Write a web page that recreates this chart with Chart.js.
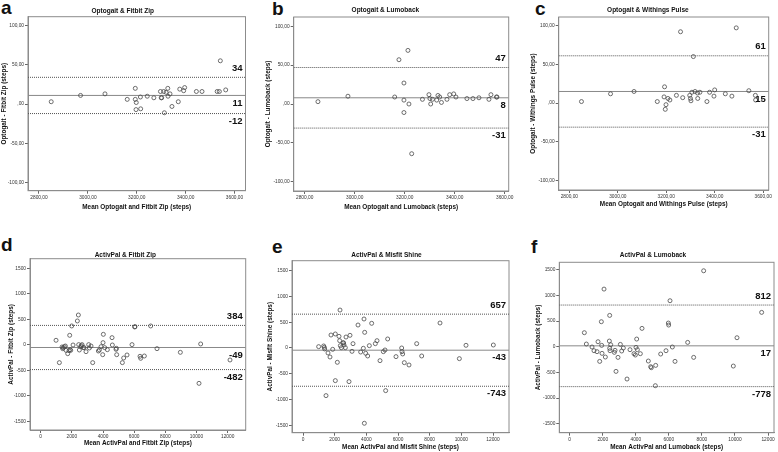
<!DOCTYPE html>
<html>
<head>
<meta charset="utf-8">
<script src="https://cdn.jsdelivr.net/npm/chart.js@4.4.1/dist/chart.umd.min.js"></script>
<style>
  body { margin: 0; width: 778px; height: 452px; position: relative; overflow: hidden; background: #fff;
         font-family: "Liberation Sans", Arial, sans-serif; }
  canvas { position: absolute; }
  .tag { position: absolute; font-weight: bold; font-size: 19px; line-height: 19px; color: #111; }
</style>
</head>
<body>
<div class="tag" style="left:1px;top:-2px">a</div>
<div class="tag" style="left:272px;top:-1px">b</div>
<div class="tag" style="left:535px;top:-1px">c</div>
<div class="tag" style="left:1px;top:235px">d</div>
<div class="tag" style="left:272px;top:237px">e</div>
<div class="tag" style="left:531px;top:237px">f</div>
<script>
// tick labels
const optoXTicks = [2800, 3000, 3200, 3400, 3600];
const optoYTicks = [-100, -50, 0, 50, 100];
const palXTicks = [0, 2000, 4000, 6000, 8000, 10000, 12000];
const palYTicks = [-1500, -1000, -500, 0, 500, 1000, 1500];

// a: Optogait & Fitbit Zip
const aMean = [2850, 2970, 3070, 3161, 3194, 3194, 3198, 3197, 3215, 3216, 3243, 3270, 3297, 3300, 3302, 3310,
  3313, 3320, 3327, 3328, 3336, 3344, 3370, 3376, 3392, 3396, 3444, 3467, 3529, 3538, 3542, 3564];
const aDiff = [3, 11, 13, 6, 20, 6, 2, -7, 9, -6, 10, 8, 16, 8, 8, 16, -11, 15, 20, 10, 13, -3, 3, 19, 17, 21,
  16, 16, 16, 16, 55, 18];
const aLimits = [34, 11, -12];

// b: Optogait & Lumoback
const bMean = [2853, 2973, 3160, 3177, 3197, 3197, 3197, 3213, 3217, 3228, 3271, 3297, 3301, 3304, 3311, 3328,
  3333, 3340, 3347, 3369, 3380, 3396, 3405, 3449, 3473, 3497, 3537, 3545, 3567, 3569];
const bDiff = [3, 10, 9, 57, 27, 5, -11, 69, 0, -64, 6, 12, 7, 0, 6, 5, 11, 9, 2, 6, 12, 13, 9, 7, 7, 8, 6, 12, 9, 9];
const bLimits = [47, 8, -31];

// c: Optogait & Withings Pulse
const cMean = [2850, 2970, 3067, 3163, 3193, 3191, 3199, 3196, 3207, 3215, 3242, 3259, 3268, 3297, 3300, 3302,
  3306, 3312, 3319, 3329, 3330, 3339, 3368, 3379, 3397, 3400, 3444, 3471, 3489, 3541, 3568, 3569];
const cDiff = [2, 12, 15, 2, 21, 8, -2, -8, 6, 4, 10, 92, 7, 10, 6, 3, 14, 60, 15, 13, 6, 14, 2, 14, 9, 17, 12, 9,
  97, 16, 10, 4];
const cLimits = [61, 15, -31];

// d: ActivPal & Fitbit Zip
const dMean = [984, 1198, 1369, 1412, 1454, 1519, 1583, 1626, 1733, 1818, 1861, 1882, 1925, 1989, 2075, 2353,
  2417, 2438, 2481, 2567, 2610, 2652, 2738, 2781, 2909, 3080, 3123, 3230, 3337, 3701, 3765, 3872, 3979, 4000,
  4021, 4107, 4278, 4578, 4599, 4834, 4856, 4877, 5241, 5326, 5540, 5861, 6032, 6053, 6374, 6417, 6652, 7059,
  7465, 8963, 10160, 10267, 12150];
const dDiff = [92, -346, -39, -72, -52, -33, -20, -105, -170, -111, 190, -92, -105, 373, 0, 471, 588, 7, -98, -33,
  -13, 7, -52, -52, -131, 7, -59, -20, -346, -118, -98, -33, -190, 46, 209, -52, -92, 144, 0, -85, -65, -190,
  -346, -255, -196, 7, 353, 360, -222, -261, -216, 373, -72, -144, -752, 20, -294];
const dLimits = [384, -49, -482];

// e: ActivPal & Misfit Shine
const eMean = [989, 1305, 1347, 1368, 1453, 1579, 1705, 1768, 1874, 2042, 2042, 2168, 2274, 2316, 2337, 2358,
  2421, 2526, 2568, 2589, 2674, 2716, 2905, 2968, 3095, 3158, 3474, 3642, 3811, 3853, 3895, 3874, 3958, 4084,
  4189, 4337, 4568, 4674, 4863, 5074, 5179, 5221, 5347, 5874, 6232, 6253, 6295, 6400, 6695, 7495, 7179, 8653,
  9874, 10295, 12021];
const eDiff = [26, 39, 13, -19, -925, -97, -175, 252, -26, 272, -634, -278, 226, 142, 737, 45, 6, 103, 97, 58, 6,
  213, -653, 246, -65, 84, 446, -78, -6, 563, 304, -1462, -103, -155, 45, 479, 84, 142, -246, -71, -39, -828,
  175, -168, 0, -71, -116, -285, -330, -155, 84, 485, -207, 52, 58];
const eLimits = [657, -43, -743];

// f: ActivPal & Lumoback
const fMean = [887, 1008, 1351, 1472, 1653, 1714, 1815, 1915, 1935, 1956, 2077, 2157, 2399, 2419, 2419, 2440,
  2480, 2702, 2742, 2802, 2923, 3065, 3145, 3246, 3468, 3649, 3891, 3972, 4012, 4052, 4093, 4274, 4375, 4758,
  4899, 4940, 5202, 5181, 5504, 5827, 5968, 5988, 6069, 6210, 6371, 7137, 7500, 8105, 9899, 10121, 11613];
const fDiff = [273, 52, -6, -78, -97, 97, -286, 487, 26, -130, 1123, -201, 110, 610, -32, -78, 39, -110, -71,
  -481, -208, 45, -84, -26, -630, -58, -136, -162, -13, 149, -58, -136, 357, -279, -390, -409, -364, -760, -143,
  -78, 461, 422, 896, -6, -286, 84, -208, 1480, -377, 175, 669];
const fLimits = [812, 17, -778];

const FONT = '"Liberation Sans", Arial, sans-serif';

// SPSS style decimals: 100 -> "100,00", 0 -> ",00"
const spss = v => (v === 0 ? '' : String(v)) + ',00';
const plain = v => String(v);

const panels = [
  { title: 'Optogait & Fitbit Zip', xTitle: 'Mean Optogait and Fitbit Zip (steps)', yTitle: 'Optogait - Fitbit Zip (steps)',
    x: aMean, y: aDiff, limits: aLimits, xTicks: optoXTicks, yTicks: optoYTicks, fmt: spss,
    xr: [2755, 3645], yr: [-110, 111], box: { l: 28, t: 16.7, r: 245.5, b: 190.7 }, yTitleX: 4, titleY: 11, xTitleY: 207 },
  { title: 'Optogait & Lumoback', xTitle: 'Mean Optogait and Lumoback (steps)', yTitle: 'Optogait - Lumoback (steps)',
    x: bMean, y: bDiff, limits: bLimits, xTicks: optoXTicks, yTicks: optoYTicks, fmt: spss,
    xr: [2756, 3616], yr: [-112, 112], box: { l: 293.7, t: 17, r: 508.7, b: 191 }, yTitleX: 268.7, titleY: 10.7, xTitleY: 206.7 },
  { title: 'Optogait & Withings Pulse', xTitle: 'Mean Optogait and Withings Pulse (steps)', yTitle: 'Optogait - Withings Pulse (steps)',
    x: cMean, y: cDiff, limits: cLimits, xTicks: optoXTicks, yTicks: optoYTicks, fmt: spss,
    xr: [2756, 3623], yr: [-112, 111], box: { l: 558.7, t: 17, r: 768.7, b: 190 }, yTitleX: 533, titleY: 10.7, xTitleY: 203.5 },
  { title: 'ActivPal & Fitbit Zip', xTitle: 'Mean ActivPal and Fitbit Zip (steps)', yTitle: 'ActivPal - Fitbit Zip (steps)',
    x: dMean, y: dDiff, limits: dLimits, xTicks: palXTicks, yTicks: palYTicks, fmt: plain,
    xr: [-687, 13157], yr: [-1667, 1692], box: { l: 30, t: 258.7, r: 245.7, b: 430 }, yTitleX: 11.7, titleY: 255, xTitleY: 443 },
  { title: 'ActivPal & Misfit Shine', xTitle: 'Mean ActivPal and Misfit Shine (steps)', yTitle: 'ActivPal - Misfit Shine (steps)',
    x: eMean, y: eDiff, limits: eLimits, xTicks: palXTicks, yTicks: palYTicks, fmt: plain,
    xr: [-695, 13010], yr: [-1645, 1695], box: { l: 292, t: 260.7, r: 509, b: 432.7 }, yTitleX: 270, titleY: 255.3, xTitleY: 446.5 },
  { title: 'ActivPal & Lumoback', xTitle: 'Mean ActivPal and Lumoback (steps)', yTitle: 'ActivPal - Lumoback (steps)',
    x: fMean, y: fDiff, limits: fLimits, xTicks: palXTicks, yTicks: palYTicks, fmt: plain,
    xr: [-629, 12360], yr: [-1676, 1645], box: { l: 559.3, t: 262.3, r: 774, b: 432.7 }, yTitleX: 538.7, titleY: 255.3, xTitleY: 446.5 }
];

// closes the box on top and right like SPSS does
const framePlugin = {
  id: 'frame',
  beforeDatasetsDraw(chart) {
    const { ctx, chartArea: a } = chart;
    ctx.save();
    ctx.strokeStyle = '#8c8c8c';
    ctx.lineWidth = 1;
    ctx.strokeRect(a.left, a.top, a.right - a.left, a.bottom - a.top);
    ctx.restore();
  }
};

// bold numbers next to the mean / limit lines
const limitLabels = {
  id: 'limitLabels',
  afterDatasetsDraw(chart, args, opts) {
    const { ctx, chartArea } = chart;
    const ys = chart.scales.y;
    ctx.save();
    ctx.font = 'bold 9.5px ' + FONT;
    ctx.fillStyle = '#111';
    ctx.textAlign = 'right';
    ctx.textBaseline = 'middle';
    opts.values.forEach((v, i) => {
      const py = ys.getPixelForValue(v);
      const off = i === 0 ? -9 : 7.5;
      ctx.fillText(String(v), chartArea.right - 3, py + off);
    });
    ctx.restore();
  }
};

function makePanel(p) {
  const cl = Math.max(0, Math.floor(p.yTitleX - 6));
  const ct = Math.floor(p.titleY - 6);
  const cr = Math.ceil(p.box.r + 6);
  const cb = Math.ceil(p.xTitleY + 6);
  const w = cr - cl, h = cb - ct;

  const canvas = document.createElement('canvas');
  canvas.width = w; canvas.height = h;
  canvas.style.left = cl + 'px';
  canvas.style.top = ct + 'px';
  canvas.style.width = w + 'px';
  canvas.style.height = h + 'px';
  document.body.appendChild(canvas);

  const titleSize = 6.5;
  const titlePadTop = p.titleY - ct - titleSize / 2;
  const titlePadBottom = Math.max(0, (p.box.t - ct) - titlePadTop - titleSize);
  const axisTitleSize = 6.4;
  const axisLH = axisTitleSize * 1.2;

  const lineSet = (v, dashed, color) => ({
    type: 'line',
    data: [{ x: p.xr[0], y: v }, { x: p.xr[1], y: v }],
    borderColor: color,
    borderWidth: 1,
    borderDash: dashed ? [1, 1] : [],
    pointRadius: 0,
    fill: false
  });

  new Chart(canvas, {
    type: 'scatter',
    data: {
      datasets: [
        {
          data: p.x.map((x, i) => ({ x: x, y: p.y[i] })),
          pointRadius: 2,
          pointBorderWidth: 0.8,
          borderColor: '#4a4a4a',
          backgroundColor: 'rgba(255,255,255,0)'
        },
        lineSet(p.limits[0], true, '#555'),
        lineSet(p.limits[1], false, '#888'),
        lineSet(p.limits[2], true, '#555')
      ]
    },
    options: {
      responsive: false,
      animation: false,
      devicePixelRatio: 1,
      layout: { padding: { left: 0, top: 0, right: cr - p.box.r, bottom: 0 } },
      plugins: {
        legend: { display: false },
        tooltip: { enabled: false },
        title: {
          display: true,
          text: p.title,
          color: '#111',
          font: { family: FONT, size: titleSize, weight: 'bold', lineHeight: 1 },
          padding: { top: titlePadTop, bottom: titlePadBottom }
        },
        limitLabels: { values: p.limits }
      },
      scales: {
        x: {
          type: 'linear',
          min: p.xr[0],
          max: p.xr[1],
          afterBuildTicks: s => { s.ticks = p.xTicks.map(v => ({ value: v })); },
          afterFit: s => { s.height = cb - p.box.b; s.paddingLeft = 0; s.paddingRight = 0; },
          ticks: {
            callback: v => p.fmt(v),
            autoSkip: false, maxRotation: 0, padding: 1,
            color: '#333', font: { family: FONT, size: 4.8 }
          },
          grid: { drawOnChartArea: false, drawTicks: true, tickLength: 3, color: '#666' },
          border: { display: true, color: '#8c8c8c' },
          title: {
            display: true, text: p.xTitle, color: '#111',
            font: { family: FONT, size: axisTitleSize, weight: 'bold' },
            padding: { top: 0, bottom: 6 - axisLH / 2 }
          }
        },
        y: {
          type: 'linear',
          min: p.yr[0],
          max: p.yr[1],
          afterBuildTicks: s => { s.ticks = p.yTicks.map(v => ({ value: v })); },
          afterFit: s => { s.width = p.box.l - cl; s.paddingTop = 0; s.paddingBottom = 0; },
          ticks: {
            callback: v => p.fmt(v),
            autoSkip: false, padding: 1,
            color: '#333', font: { family: FONT, size: 4.8 }
          },
          grid: { drawOnChartArea: false, drawTicks: true, tickLength: 3, color: '#666' },
          border: { display: true, color: '#8c8c8c' },
          title: {
            display: true, text: p.yTitle, color: '#111',
            font: { family: FONT, size: axisTitleSize, weight: 'bold' },
            padding: { top: Math.max(0, p.yTitleX - cl - axisLH / 2), bottom: 0 }
          }
        }
      }
    },
    plugins: [framePlugin, limitLabels]
  });
}

panels.forEach(makePanel);
</script>
</body>
</html>
